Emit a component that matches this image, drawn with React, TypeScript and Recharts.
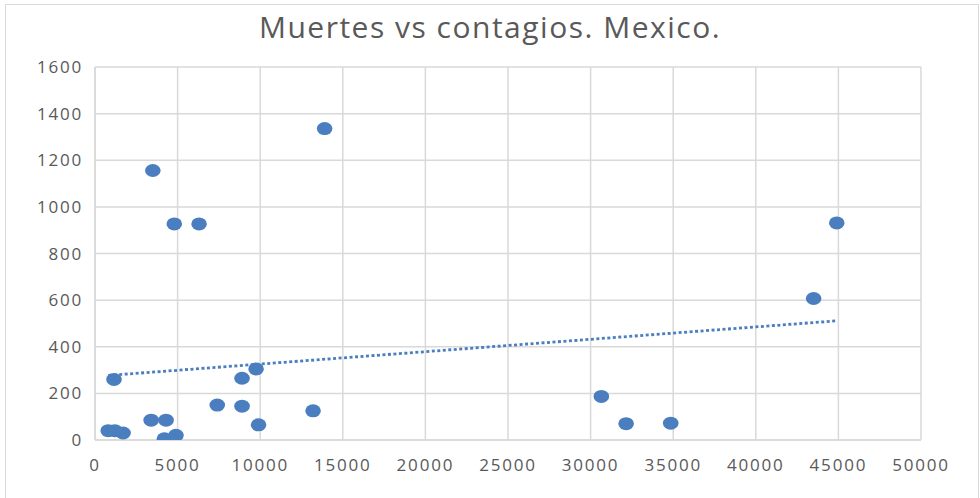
import React from "react";
import { ScatterChart, Scatter, XAxis, YAxis, CartesianGrid } from "recharts";

const contagios = [800, 1200, 1700, 1150, 3400, 4300, 4200, 4900, 7400, 8900, 8900, 9750, 9900, 13200, 13900, 3500, 4800, 6300, 30650, 32150, 34850, 43500, 44900];
const muertes = [40, 40, 30, 260, 85, 85, 5, 20, 150, 145, 265, 305, 65, 125, 1336, 1156, 927, 927, 187, 70, 72, 607, 931];
const xTicks = [0, 5000, 10000, 15000, 20000, 25000, 30000, 35000, 40000, 45000, 50000];
const yTicks = [0, 200, 400, 600, 800, 1000, 1200, 1400, 1600];

const points = contagios.map((x, i) => ({ x, y: muertes[i] }));

// linear least-squares trendline (like Excel's "Linear" trendline)
const n = points.length;
const mx = contagios.reduce((a, b) => a + b, 0) / n;
const my = muertes.reduce((a, b) => a + b, 0) / n;
let sxy = 0;
let sxx = 0;
points.forEach((p) => {
  sxy += (p.x - mx) * (p.y - my);
  sxx += (p.x - mx) * (p.x - mx);
});
const slope = sxy / sxx;
const intercept = my - slope * mx;
const xMin = Math.min(...contagios);
const xMax = Math.max(...contagios);
const trend = [
  { x: xMin, y: intercept + slope * xMin },
  { x: xMax, y: intercept + slope * xMax },
];

const BLUE = "#4A7EBF";
const GRID = "#D9D9D9";
const TEXT = "#595959";
const FONT = "'Open Sans', sans-serif";

const Dot = (props: any) => {
  if (props.cx == null || props.cy == null) return <g />;
  return <ellipse cx={props.cx} cy={props.cy} rx={7.8} ry={6.5} fill={BLUE} />;
};

const NoDot = () => <g />;

const tickStyle = { fill: TEXT, fontSize: 17, fontFamily: FONT, letterSpacing: 1.8 };

export default function App() {
  return (
    <div style={{ position: "absolute", left: 0, top: 0, width: 980, height: 498, overflow: "hidden", background: "#fff" }}>
      <div style={{ position: "absolute", left: 5, top: 4, width: 972, height: 520, border: "1px solid #D9D9D9" }} />
      <div
        style={{
          position: "absolute",
          left: 0,
          top: 9,
          width: 980,
          textAlign: "center",
          fontFamily: FONT,
          fontSize: 30,
          letterSpacing: 1.5,
          color: TEXT,
          lineHeight: "36px",
        }}
      >
        Muertes vs contagios. Mexico.
      </div>
      <div style={{ position: "absolute", left: 0, top: 0 }}>
        <ScatterChart width={980} height={498} margin={{ top: 67, right: 59, bottom: 0, left: 0 }}>
          <CartesianGrid stroke={GRID} strokeWidth={1.5} />
          <XAxis
            type="number"
            dataKey="x"
            domain={[0, 50000]}
            ticks={xTicks}
            interval={0}
            height={58}
            axisLine={{ stroke: GRID, strokeWidth: 1.5 }}
            tickLine={false}
            tickSize={0}
            tickMargin={19}
            tick={tickStyle}
            allowDataOverflow
          />
          <YAxis
            type="number"
            dataKey="y"
            domain={[0, 1600]}
            ticks={yTicks}
            interval={0}
            width={95}
            axisLine={{ stroke: GRID, strokeWidth: 1.5 }}
            tickLine={false}
            tickSize={0}
            tickMargin={12}
            tick={tickStyle}
            allowDataOverflow
          />
          <Scatter data={points} shape={Dot} isAnimationActive={false} />
          <Scatter
            data={trend}
            shape={NoDot}
            line={{ stroke: BLUE, strokeWidth: 2.8, strokeDasharray: "3 2.5" }}
            isAnimationActive={false}
          />
        </ScatterChart>
      </div>
    </div>
  );
}
